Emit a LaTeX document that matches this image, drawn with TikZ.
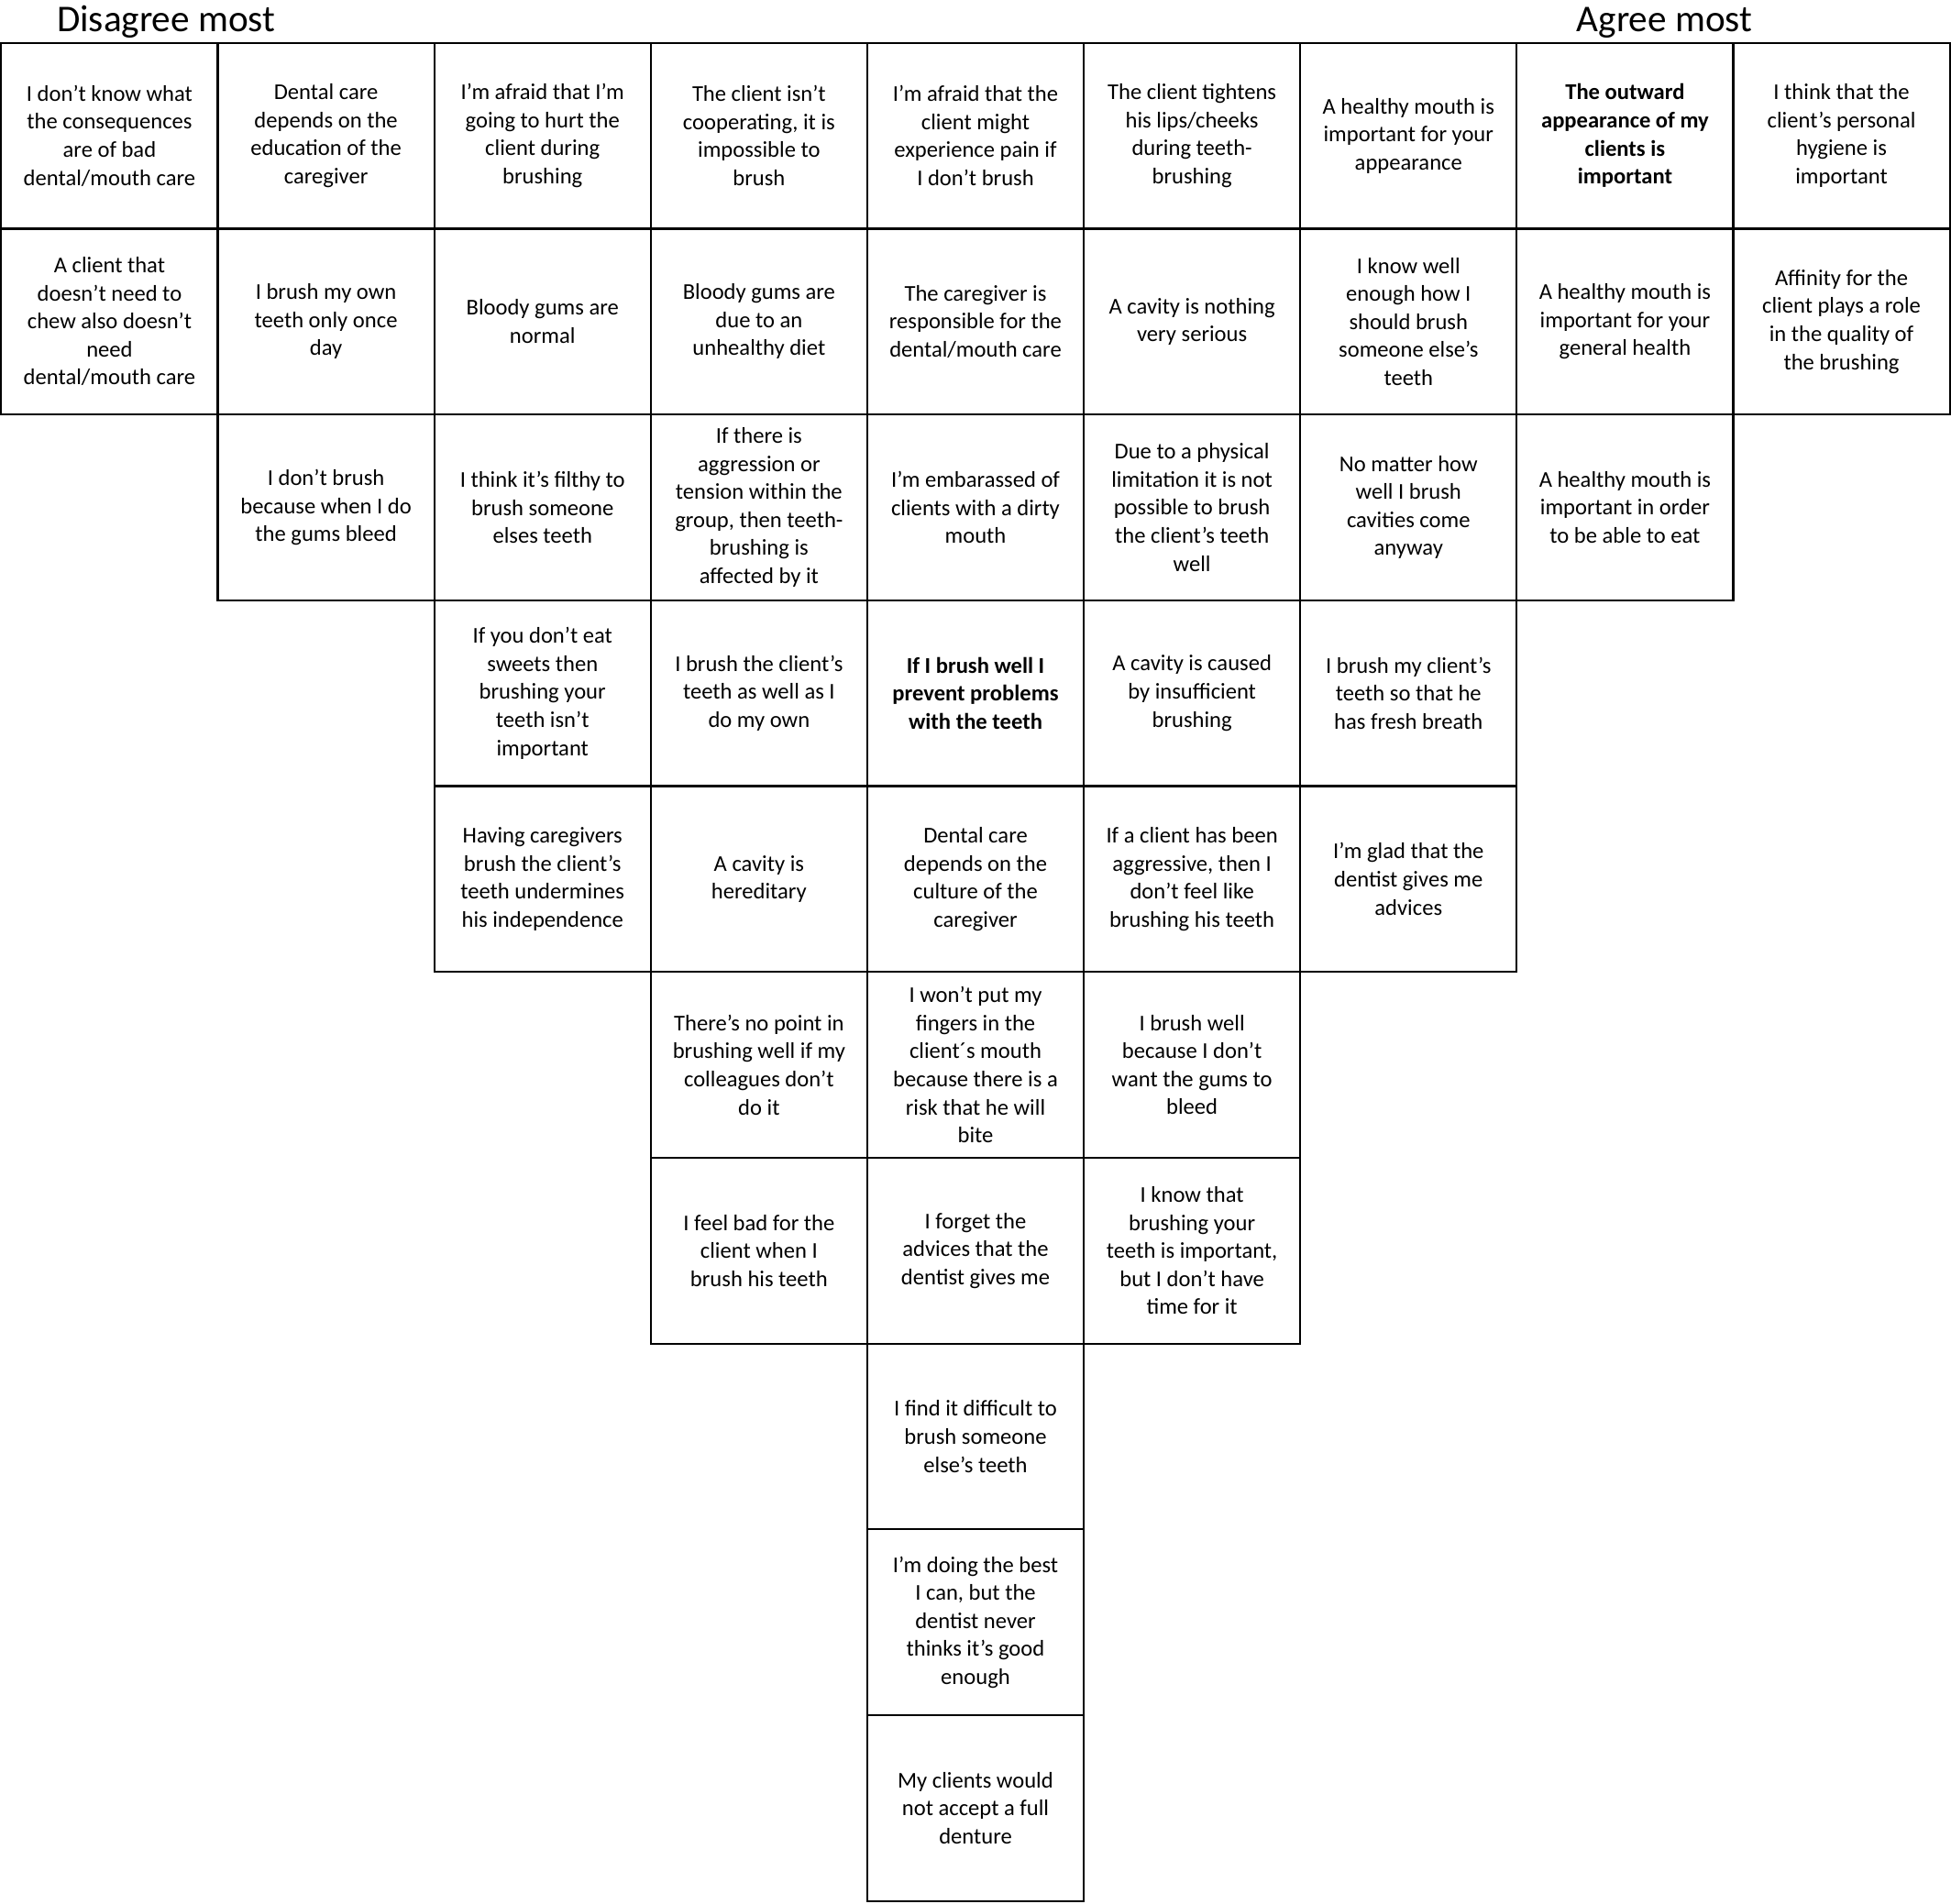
\documentclass[tikz,border=0pt]{standalone}
\usepackage{fontspec}
\setmainfont{Carlito}
\usetikzlibrary{positioning}

\begin{document}
\begin{tikzpicture}[
  card/.style={draw, line width=1.1pt, minimum width=\cw cm, minimum height=\ch cm,
    outer sep=0pt, inner sep=0pt, align=center, font=\fontsize{12.3}{15.3}\selectfont},
  head/.style={anchor=base west, inner sep=0pt, font=\fontsize{20.6}{24}\selectfont}]

% Card size
\def\cw{4.1496}   %Width of one card.
\def\ch{3.5621}   %Height of one card.

% Page size
\useasboundingbox (-0.0246,0.8207) rectangle (37.371,-35.678);

% Headings
\node[head] (disagree) at (1.06,0.206) {Disagree most};
\node[head] (agree) at (30.19,0.206) {Agree most};

% Column 1
\node[card] (c1r1) at (0.5*\cw,-0.5*\ch) {I don’t know what\\the consequences\\are of bad\\dental/mouth care};
\node[card, below=0pt of c1r1] (c1r2) {A client that\\doesn’t need to\\chew also doesn’t\\need\\dental/mouth care};

% Column 2
\node[card, right=0pt of c1r1] (c2r1) {Dental care\\depends on the\\education of the\\caregiver};
\node[card, below=0pt of c2r1] (c2r2) {I brush my own\\teeth only once\\day};
\node[card, below=0pt of c2r2] (c2r3) {I don’t brush\\because when I do\\the gums bleed};

% Column 3
\node[card, right=0pt of c2r1] (c3r1) {I’m afraid that I’m\\going to hurt the\\client during\\brushing};
\node[card, below=0pt of c3r1] (c3r2) {Bloody gums are\\normal};
\node[card, below=0pt of c3r2] (c3r3) {I think it’s filthy to\\brush someone\\elses teeth};
\node[card, below=0pt of c3r3] (c3r4) {If you don’t eat\\sweets then\\brushing your\\teeth isn’t\\important};
\node[card, below=0pt of c3r4] (c3r5) {Having caregivers\\brush the client’s\\teeth undermines\\his independence};

% Column 4
\node[card, right=0pt of c3r1] (c4r1) {The client isn’t\\cooperating, it is\\impossible to\\brush};
\node[card, below=0pt of c4r1] (c4r2) {Bloody gums are\\due to an\\unhealthy diet};
\node[card, below=0pt of c4r2] (c4r3) {If there is\\aggression or\\tension within the\\group, then teeth-\\brushing is\\affected by it};
\node[card, below=0pt of c4r3] (c4r4) {I brush the client’s\\teeth as well as I\\do my own};
\node[card, below=0pt of c4r4] (c4r5) {A cavity is\\hereditary};
\node[card, below=0pt of c4r5] (c4r6) {There’s no point in\\brushing well if my\\colleagues don’t\\do it};
\node[card, below=0pt of c4r6] (c4r7) {I feel bad for the\\client when I\\brush his teeth};

% Column 5
\node[card, right=0pt of c4r1] (c5r1) {I’m afraid that the\\client might\\experience pain if\\I don’t brush};
\node[card, below=0pt of c5r1] (c5r2) {The caregiver is\\responsible for the\\dental/mouth care};
\node[card, below=0pt of c5r2] (c5r3) {I’m embarassed of\\clients with a dirty\\mouth};
\node[card, below=0pt of c5r3] (c5r4) {\textbf{If I brush well I}\\\textbf{prevent problems}\\\textbf{with the teeth}};
\node[card, below=0pt of c5r4] (c5r5) {Dental care\\depends on the\\culture of the\\caregiver};
\node[card, below=0pt of c5r5] (c5r6) {I won’t put my\\fingers in the\\client´s mouth\\because there is a\\risk that he will\\bite};
\node[card, below=0pt of c5r6] (c5r7) {I forget the\\advices that the\\dentist gives me};
\node[card, below=0pt of c5r7] (c5r8) {I find it difficult to\\brush someone\\else’s teeth};
\node[card, below=0pt of c5r8] (c5r9) {I’m doing the best\\I can, but the\\dentist never\\thinks it’s good\\enough};
\node[card, below=0pt of c5r9] (c5r10) {My clients would\\not accept a full\\denture};

% Column 6
\node[card, right=0pt of c5r1] (c6r1) {The client tightens\\his lips/cheeks\\during teeth-\\brushing};
\node[card, below=0pt of c6r1] (c6r2) {A cavity is nothing\\very serious};
\node[card, below=0pt of c6r2] (c6r3) {Due to a physical\\limitation it is not\\possible to brush\\the client’s teeth\\well};
\node[card, below=0pt of c6r3] (c6r4) {A cavity is caused\\by insufficient\\brushing};
\node[card, below=0pt of c6r4] (c6r5) {If a client has been\\aggressive, then I\\don’t feel like\\brushing his teeth};
\node[card, below=0pt of c6r5] (c6r6) {I brush well\\because I don’t\\want the gums to\\bleed};
\node[card, below=0pt of c6r6] (c6r7) {I know that\\brushing your\\teeth is important,\\but I don’t have\\time for it};

% Column 7
\node[card, right=0pt of c6r1] (c7r1) {A healthy mouth is\\important for your\\appearance};
\node[card, below=0pt of c7r1] (c7r2) {I know well\\enough how I\\should brush\\someone else’s\\teeth};
\node[card, below=0pt of c7r2] (c7r3) {No matter how\\well I brush\\cavities come\\anyway};
\node[card, below=0pt of c7r3] (c7r4) {I brush my client’s\\teeth so that he\\has fresh breath};
\node[card, below=0pt of c7r4] (c7r5) {I’m glad that the\\dentist gives me\\advices};

% Column 8
\node[card, right=0pt of c7r1] (c8r1) {\textbf{The outward}\\\textbf{appearance of my}\\\textbf{clients is}\\\textbf{important}};
\node[card, below=0pt of c8r1] (c8r2) {A healthy mouth is\\important for your\\general health};
\node[card, below=0pt of c8r2] (c8r3) {A healthy mouth is\\important in order\\to be able to eat};

% Column 9
\node[card, right=0pt of c8r1] (c9r1) {I think that the\\client’s personal\\hygiene is\\important};
\node[card, below=0pt of c9r1] (c9r2) {Affinity for the\\client plays a role\\in the quality of\\the brushing};

\end{tikzpicture}
\end{document}
